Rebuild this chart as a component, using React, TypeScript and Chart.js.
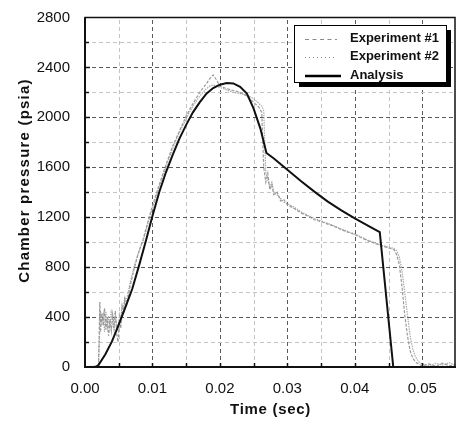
import React, { useEffect, useRef } from 'react';
import { Chart, registerables } from 'chart.js';

Chart.register(...registerables);

// ---- data ----
const expTime = [
  0, 0.001, 0.002, 0.0022, 0.0023, 0.0025, 0.0027, 0.0029, 0.0031, 0.0033, 0.0035, 0.0037, 0.0039,
  0.0041, 0.0043, 0.0045, 0.0047, 0.0049, 0.0051, 0.0053, 0.0055, 0.0057, 0.0059, 0.0061, 0.0064,
  0.0067, 0.007, 0.0073, 0.0076, 0.0079, 0.0082, 0.0086, 0.009, 0.0095, 0.01, 0.011, 0.012, 0.013,
  0.014, 0.015, 0.016, 0.017, 0.018, 0.0185, 0.019, 0.0195, 0.02, 0.021, 0.022, 0.023, 0.024, 0.025,
  0.0258, 0.0262, 0.0265, 0.0268, 0.0271, 0.0274, 0.0277, 0.028, 0.0285, 0.029, 0.0295, 0.03, 0.031,
  0.032, 0.033, 0.034, 0.035, 0.036, 0.037, 0.038, 0.039, 0.04, 0.041, 0.042, 0.043, 0.044, 0.045,
  0.0458, 0.0462, 0.0466, 0.047, 0.0474, 0.0478, 0.0482, 0.0486, 0.049, 0.0495, 0.05, 0.051, 0.052,
  0.053, 0.054, 0.055,
];
const exp1Pressure = [
  0, 5, 10, 520, 280, 430, 330, 470, 300, 400, 250, 380, 290,
  420, 330, 450, 260, 200, 380, 310, 470, 420, 540, 480, 560,
  650, 720, 790, 850, 910, 960, 1020, 1100, 1200, 1290, 1460, 1620, 1770,
  1890, 2010, 2110, 2200, 2270, 2310, 2340, 2300, 2250, 2230, 2215, 2200, 2170, 2120,
  2080, 2040, 1600, 1480, 1550, 1420, 1460, 1380, 1400, 1330, 1340, 1300, 1270,
  1235, 1210, 1180, 1165, 1145, 1125, 1100, 1080, 1060, 1035, 1010, 990, 970, 955,
  940, 900, 820, 640, 420, 250, 130, 70, 40, 20, 10, 25, 5,
  30, 10, 20,
];
const exp2Pressure = [
  0, 0, 5, 300, 450, 360, 420, 280, 440, 320, 410, 300, 460,
  350, 300, 400, 340, 290, 420, 380, 500, 460, 560, 520, 600,
  680, 740, 810, 860, 910, 950, 1010, 1080, 1180, 1270, 1440, 1600, 1750,
  1880, 1990, 2090, 2170, 2230, 2250, 2260, 2250, 2240, 2220, 2200, 2190, 2180, 2150,
  2110, 2090, 2050, 1560, 1500, 1440, 1480, 1400, 1380, 1350, 1320, 1310, 1280,
  1245, 1215, 1190, 1170, 1150, 1130, 1105, 1085, 1065, 1040, 1015, 995, 975, 960,
  950, 930, 880, 770, 600, 420, 250, 140, 80, 40, 25, 10, 30,
  15, 35, 10,
];
const analysisTime = [
  0.0016, 0.002, 0.003, 0.004, 0.005, 0.006, 0.007, 0.008, 0.009, 0.01, 0.011, 0.012, 0.013,
  0.014, 0.015, 0.016, 0.017, 0.018, 0.019, 0.02, 0.021, 0.022, 0.023, 0.024, 0.025, 0.026,
  0.0269, 0.028, 0.03, 0.032, 0.034, 0.036, 0.038, 0.04, 0.042, 0.0437, 0.0457,
];
const analysisPressure = [
  0, 15, 100, 205, 340, 480, 625, 810, 1005, 1210, 1400, 1560, 1700,
  1830, 1940, 2040, 2120, 2190, 2235, 2262, 2275, 2272, 2245, 2190, 2070, 1910,
  1715, 1670, 1580, 1490, 1405, 1325, 1255, 1190, 1130, 1080, 0,
];

const seriesLabels = ['Experiment #1', 'Experiment #2', 'Analysis'];
const xTickValues = [0, 0.01, 0.02, 0.03, 0.04, 0.05];
const yTickValues = [0, 400, 800, 1200, 1600, 2000, 2400, 2800];
const xMin = 0;
const xMax = 0.055;
const yMin = 0;
const yMax = 2800;
const xMinorStep = 0.005;
const yMinorStep = 200;
const xTitle = 'Time (sec)';
const yTitle = 'Chamber pressure (psia)';

const FONT = "'Liberation Sans', Arial, Helvetica, sans-serif";
const GRAY = '#999999';

const toPoints = (xs: number[], ys: number[]) => xs.map((x, i) => ({ x, y: ys[i] }));

const decorPlugin = {
  id: 'decor',
  beforeDatasetsDraw(chart: any) {
    const { ctx, chartArea: a, scales } = chart;
    const xs = scales.x;
    const ys = scales.y;
    ctx.save();
    ctx.lineWidth = 1;
    ctx.setLineDash([4, 3]);
    const nx = Math.round((xMax - xMin) / xMinorStep);
    for (let i = 1; i <= nx; i++) {
      const v = xMin + i * xMinorStep;
      const px = Math.round(xs.getPixelForValue(v)) + 0.5;
      if (px > a.right - 1) continue;
      ctx.strokeStyle = i % 2 === 0 ? '#5a5a5a' : '#c4c4c4';
      ctx.beginPath();
      ctx.moveTo(px, a.bottom);
      ctx.lineTo(px, a.top);
      ctx.stroke();
    }
    const ny = Math.round((yMax - yMin) / yMinorStep);
    for (let i = 1; i < ny; i++) {
      const v = yMin + i * yMinorStep;
      const py = Math.round(ys.getPixelForValue(v)) + 0.5;
      ctx.strokeStyle = i % 2 === 0 ? '#5a5a5a' : '#c4c4c4';
      ctx.beginPath();
      ctx.moveTo(a.left, py);
      ctx.lineTo(a.right, py);
      ctx.stroke();
    }
    ctx.restore();
  },
  afterDatasetsDraw(chart: any) {
    const { ctx, chartArea: a, scales } = chart;
    const xs = scales.x;
    const ys = scales.y;
    ctx.save();
    ctx.setLineDash([]);
    ctx.strokeStyle = '#111';
    ctx.lineWidth = 1.5;
    const ny = Math.round((yMax - yMin) / yMinorStep);
    for (let i = 1; i < ny; i++) {
      const py = Math.round(ys.getPixelForValue(yMin + i * yMinorStep)) + 0.5;
      ctx.beginPath();
      ctx.moveTo(a.left, py);
      ctx.lineTo(a.left + (i % 2 === 0 ? 5 : 4), py);
      ctx.stroke();
    }
    const nx = Math.round((xMax - xMin) / xMinorStep);
    for (let i = 1; i <= nx; i++) {
      const px = Math.round(xs.getPixelForValue(xMin + i * xMinorStep)) + 0.5;
      if (px > a.right - 2) continue;
      ctx.beginPath();
      ctx.moveTo(px, a.bottom);
      ctx.lineTo(px, a.bottom - 4);
      ctx.stroke();
    }
    ctx.lineWidth = 1.5;
    ctx.strokeRect(a.left, a.top, a.right - a.left - 1, a.bottom - a.top);
    ctx.lineWidth = 2;
    ctx.beginPath();
    ctx.moveTo(a.left, a.top);
    ctx.lineTo(a.left, a.bottom);
    ctx.lineTo(a.right, a.bottom);
    ctx.stroke();
    ctx.restore();
  },
  afterDraw(chart: any) {
    const { ctx, chartArea: a } = chart;
    ctx.save();
    ctx.fillStyle = '#111';
    ctx.font = `bold 15px ${FONT}`;
    (ctx as any).letterSpacing = '0.7px';
    ctx.textAlign = 'center';
    ctx.textBaseline = 'alphabetic';
    ctx.fillText(xTitle, (a.left + a.right) / 2, 414);
    ctx.save();
    (ctx as any).letterSpacing = '1.2px';
    ctx.translate(29, 180.5);
    ctx.rotate(-Math.PI / 2);
    ctx.fillText(yTitle, 0, 0);
    ctx.restore();
    (ctx as any).letterSpacing = '0px';

    // legend
    const bx = 294, by = 25, bw = 152, bh = 57;
    ctx.fillStyle = '#000';
    ctx.fillRect(bx + 5, by + 5, bw, bh);
    ctx.fillStyle = '#fff';
    ctx.fillRect(bx, by, bw, bh);
    ctx.strokeStyle = '#000';
    ctx.lineWidth = 1;
    ctx.strokeRect(bx + 0.5, by + 0.5, bw, bh);
    const ds = chart.data.datasets;
    const rowY = [39.5, 57.5, 76];
    [0, 1, 2].forEach((idx, r) => {
      const d = ds[idx];
      ctx.save();
      ctx.strokeStyle = idx === 2 ? '#000' : '#8a8a8a';
      ctx.lineWidth = idx === 2 ? 2.5 : 1;
      ctx.setLineDash(idx === 0 ? [4, 3.5] : idx === 1 ? [1, 3] : []);
      ctx.beginPath();
      ctx.moveTo(305, rowY[r]);
      ctx.lineTo(idx === 2 ? 341 : 337, rowY[r]);
      ctx.stroke();
      ctx.restore();
      ctx.fillStyle = '#111';
      ctx.font = `bold 13px ${FONT}`;
      ctx.textAlign = 'left';
      ctx.textBaseline = 'middle';
      ctx.fillText(d.label, 350, rowY[r] - 1);
    });
    ctx.restore();
  },
};

export default function App() {
  const ref = useRef<HTMLCanvasElement | null>(null);
  useEffect(() => {
    if (!ref.current) return;
    const chart = new Chart(ref.current, {
      type: 'line',
      data: {
        datasets: [
          {
            label: seriesLabels[0],
            data: toPoints(expTime, exp1Pressure),
            borderColor: GRAY,
            borderWidth: 1.2,
            borderDash: [3, 1.5],
            pointRadius: 0,
            tension: 0,
            order: 1,
          },
          {
            label: seriesLabels[1],
            data: toPoints(expTime, exp2Pressure),
            borderColor: '#aaaaaa',
            borderWidth: 1.2,
            borderDash: [1.5, 1],
            pointRadius: 0,
            tension: 0,
            order: 2,
          },
          {
            label: seriesLabels[2],
            data: toPoints(analysisTime, analysisPressure),
            borderColor: '#111',
            borderWidth: 2,
            pointRadius: 0,
            tension: 0,
            order: 0,
          },
        ],
      },
      plugins: [decorPlugin],
      options: {
        animation: false,
        responsive: false,
        devicePixelRatio: 1,
        layout: { padding: { top: 17.5, right: 0, left: 0, bottom: 0 } },
        plugins: { legend: { display: false }, tooltip: { enabled: false } },
        scales: {
          x: {
            type: 'linear',
            min: xMin,
            max: xMax,
            grid: { display: false },
            border: { display: false },
            afterBuildTicks: (s: any) => {
              s.ticks = xTickValues.map((v) => ({ value: v }));
            },
            afterFit: (s: any) => {
              s.height = 55;
              s.paddingLeft = 0;
              s.paddingRight = 0;
            },
            ticks: {
              autoSkip: false,
              maxRotation: 0,
              padding: 5,
              color: '#111',
              font: { family: FONT, size: 15 },
              callback: (v: any) => Number(v).toFixed(2),
            },
          },
          y: {
            type: 'linear',
            min: yMin,
            max: yMax,
            grid: { display: false },
            border: { display: false },
            afterBuildTicks: (s: any) => {
              s.ticks = yTickValues.map((v) => ({ value: v }));
            },
            afterFit: (s: any) => {
              s.width = 85;
              s.paddingTop = 0;
              s.paddingBottom = 0;
            },
            ticks: {
              autoSkip: false,
              padding: 7,
              color: '#111',
              font: { family: FONT, size: 15 },
              callback: (v: any) => String(v),
            },
          },
        },
      },
    } as any);
    return () => chart.destroy();
  }, []);
  return (
    <div style={{ position: 'fixed', left: 0, top: 0, width: 456, height: 422, background: '#fff' }}>
      <canvas ref={ref} width={456} height={422} style={{ width: 456, height: 422, display: 'block' }} />
    </div>
  );
}
